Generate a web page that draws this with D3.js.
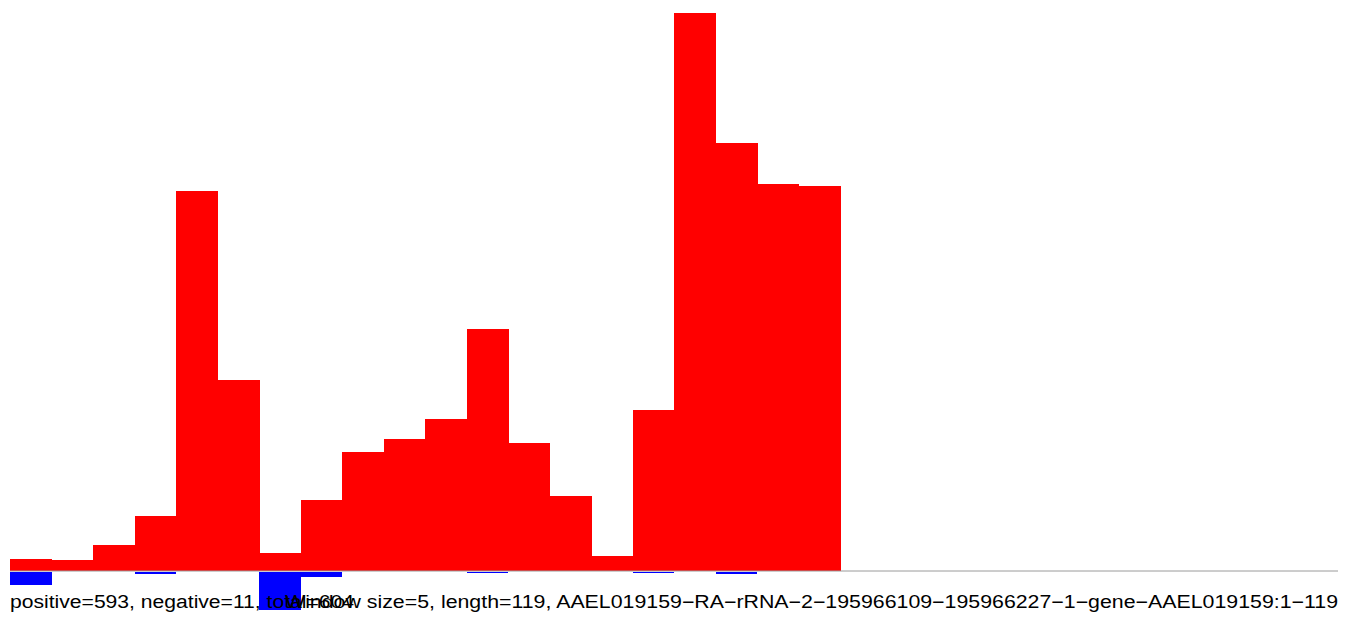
<!DOCTYPE html>
<html>
<head>
<meta charset="utf-8">
<script src="https://cdn.jsdelivr.net/npm/d3@7"></script>
<style>
  html, body { margin: 0; padding: 0; background: #fff; }
  svg { display: block; }
</style>
</head>
<body>
<svg id="chart" width="1350" height="622"></svg>
<script>
// Window index (window size = 5 over length 119)
const windows = d3.range(20);
// Positive (red) values per window
const positiveValues = [2.0, 1.83, 4.22, 9.05, 63.3, 31.7, 2.88, 11.83, 19.83, 22.0,
                        25.33, 40.33, 21.33, 12.38, 2.38, 26.83, 93.0, 71.33, 64.55, 64.17];
// Negative (blue) values per window
const negativeValues = [2.22, 0, 0, 0.38, 0, 0, 6.5, 0.95, 0, 0,
                        0, 0.08, 0, 0, 0, 0.12, 0, 0.45, 0, 0];
const totalSlots = 32;
const leftLabel = "positive=593, negative=11, total=604";
const rightLabel = "Window size=5, length=119, AAEL019159\u2212RA\u2212rRNA\u22122\u2212195966109\u2212195966227\u22121\u2212gene\u2212AAEL019159:1\u2212119";

const svg = d3.select("#chart");
const x = d3.scaleLinear().domain([0, totalSlots]).range([10, 1338]);
const y = d3.scaleLinear().domain([0, 93]).range([570.5, 13]);

// positive bars
svg.append("g").attr("shape-rendering", "crispEdges").selectAll("rect")
  .data(windows)
  .join("rect")
  .attr("x", i => x(i))
  .attr("width", i => x(i + 1) - x(i) + 0.5)
  .attr("y", i => y(positiveValues[i]))
  .attr("height", i => y(0) - y(positiveValues[i]))
  .attr("fill", "#ff0000");

// negative bars
svg.append("g").attr("shape-rendering", "crispEdges").selectAll("rect")
  .data(windows.filter(i => negativeValues[i] > 0))
  .join("rect")
  .attr("x", i => x(i))
  .attr("width", i => x(i + 1) - x(i))
  .attr("y", y(0) + 1)
  .attr("height", i => Math.max(1, y(0) - y(negativeValues[i])))
  .attr("fill", "#0000ff");

// baseline
svg.append("line")
  .attr("x1", x(0)).attr("x2", x(totalSlots))
  .attr("y1", y(0) + 0.5).attr("y2", y(0) + 0.5)
  .attr("stroke", "#9a9a9a").attr("stroke-width", 1);

// labels
svg.append("text")
  .attr("x", 10).attr("y", 608)
  .attr("font-family", "Liberation Sans, Arial, sans-serif")
  .attr("font-size", 18)
  .attr("textLength", 344)
  .attr("lengthAdjust", "spacingAndGlyphs")
  .attr("fill", "#000")
  .text(leftLabel);

svg.append("text")
  .attr("x", 285).attr("y", 608)
  .attr("font-family", "Liberation Sans, Arial, sans-serif")
  .attr("font-size", 18)
  .attr("textLength", 1053)
  .attr("lengthAdjust", "spacingAndGlyphs")
  .attr("fill", "#000")
  .text(rightLabel);
</script>
</body>
</html>
